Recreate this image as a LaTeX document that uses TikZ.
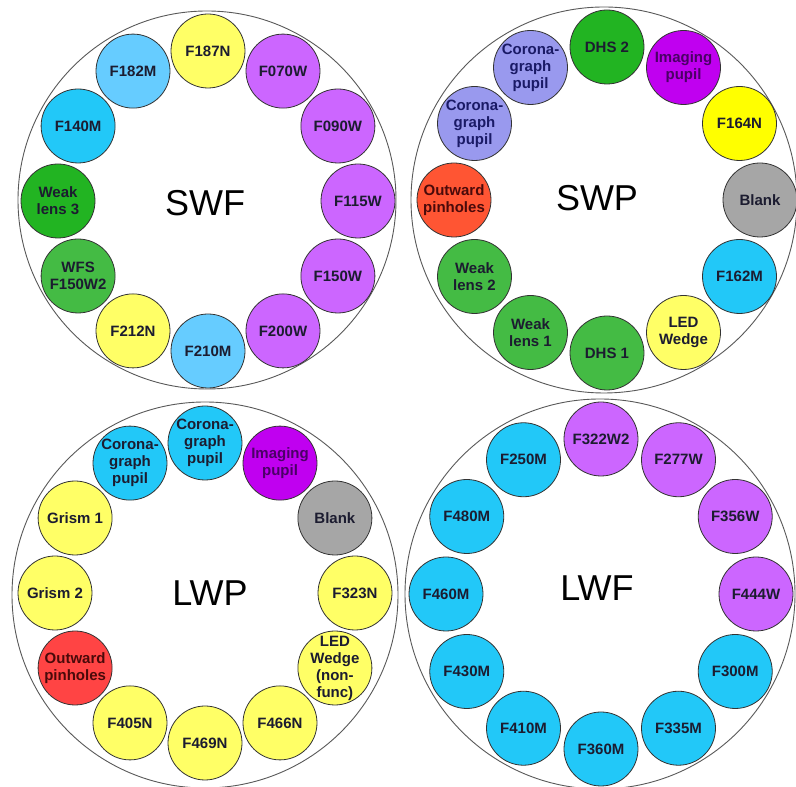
\documentclass[tikz,border=0pt]{standalone}
\usepackage{fontspec}
\setmainfont{Liberation Sans}
\usetikzlibrary{calc}
\definecolor{cyel}{HTML}{FFFF66}
\definecolor{cbyel}{HTML}{FFFF00}
\definecolor{cpur}{HTML}{CC66FF}
\definecolor{clblue}{HTML}{66CCFF}
\definecolor{ccyan}{HTML}{22C8F8}
\definecolor{cgrn}{HTML}{22B422}
\definecolor{cgrnb}{HTML}{44BB44}
\definecolor{cmag}{HTML}{C000F0}
\definecolor{clav}{HTML}{9999EE}
\definecolor{cred}{HTML}{FF5533}
\definecolor{cred2}{HTML}{FF4444}
\definecolor{cgray}{HTML}{A6A6A6}
\definecolor{ctxt}{HTML}{1C1C30}
\definecolor{cmagtxt}{HTML}{4A0066}
\definecolor{credtxt}{HTML}{4A0A0A}
\definecolor{cnavy}{HTML}{1A1A66}
\tikzset{
  wheel/.style={circle, draw=black!65, line width=0.9pt, fill=white},
  filt/.style={circle, draw=black!80, line width=0.8pt, minimum size=74pt, inner sep=-3pt,
     align=center, text=ctxt, font=\fontsize{15}{17}\selectfont\bfseries},
  title/.style={font=\fontsize{36}{40}\selectfont, text=black},
  yel/.style={filt, fill=cyel},
  byel/.style={filt, fill=cbyel},
  pur/.style={filt, fill=cpur},
  lblue/.style={filt, fill=clblue},
  cyan/.style={filt, fill=ccyan},
  grn/.style={filt, fill=cgrn},
  grnb/.style={filt, fill=cgrnb},
  mag/.style={filt, fill=cmag, text=cmagtxt},
  lav/.style={filt, fill=clav, text=cnavy},
  red/.style={filt, fill=cred, text=credtxt},
  redb/.style={filt, fill=cred2, text=credtxt},
  gry/.style={filt, fill=cgray},
}
\begin{document}
\begin{tikzpicture}[x=1pt,y=1pt]
\useasboundingbox (0,0) rectangle (796,787);
\fill[white] (0,0) rectangle (796,787);
% big wheels
\node[wheel, minimum size=378pt] (swfw) at (207,587) {};
\node[wheel, minimum size=386pt] (swpw) at (604,587) {};
\node[wheel, minimum size=386pt] (lwpw) at (205,192) {};
\node[wheel, minimum size=390pt] (lwfw) at (600,193) {};
% titles
\node[title] (swft) at (205,584) {SWF};
\node[title] (swpt) at (597,589) {SWP};
\node[title] (lwpt) at (210,194) {LWP};
\node[title] (lwft) at (597,199) {LWF};
% SWF
\foreach \a/\s/\t [count=\i] in {90/yel/{F187N}, 60/pur/{F070W}, 30/pur/{F090W}, 0/pur/{F115W},
  -30/pur/{F150W}, -60/pur/{F200W}, -90/lblue/{F210M}, -120/yel/{F212N},
  -150/grnb/{WFS\\F150W2}, 180/grn/{Weak\\lens 3}, 150/cyan/{F140M}, 120/lblue/{F182M}}
  \node[\s] (swf\i) at ($(208,586)+(\a:150)$) {\t};
% SWP
\foreach \a/\s/\t [count=\i] in {90/grn/{DHS  2}, 60/mag/{Imaging\\pupil}, 30/byel/{F164N}, 0/gry/{Blank},
  -30/cyan/{F162M}, -60/yel/{LED\\Wedge}, -90/grnb/{DHS  1}, -120/grnb/{Weak\\lens 1},
  -150/grnb/{Weak\\lens 2}, 180/red/{Outward\\pinholes}, 150/lav/{Corona-\\graph\\pupil}, 120/lav/{Corona-\\graph\\pupil}}
  \node[\s] (swp\i) at ($(607,587)+(\a:153)$) {\t};
% LWP
\foreach \a/\s/\t [count=\i] in {90/cyan/{Corona-\\graph\\pupil}, 60/mag/{Imaging\\pupil}, 30/gry/{Blank}, 0/yel/{F323N},
  -30/yel/{LED\\Wedge\\(non-\\func)}, -60/yel/{F466N}, -90/yel/{F469N}, -120/yel/{F405N},
  -150/redb/{Outward\\pinholes}, 180/yel/{Grism 2}, 150/yel/{Grism 1}, 120/cyan/{Corona-\\graph\\pupil}}
  \node[\s, inner sep=-8pt] (lwp\i) at ($(205,194)+(\a:150)$) {\t};
% LWF
\foreach \a/\s/\t [count=\i] in {90/pur/{F322W2}, 60/pur/{F277W}, 30/pur/{F356W}, 0/pur/{F444W},
  -30/cyan/{F300M}, -60/cyan/{F335M}, -90/cyan/{F360M}, -120/cyan/{F410M},
  -150/cyan/{F430M}, 180/cyan/{F460M}, 150/cyan/{F480M}, 120/cyan/{F250M}}
  \node[\s] (lwf\i) at ($(601,193)+(\a:155)$) {\t};
\end{tikzpicture}
\end{document}
